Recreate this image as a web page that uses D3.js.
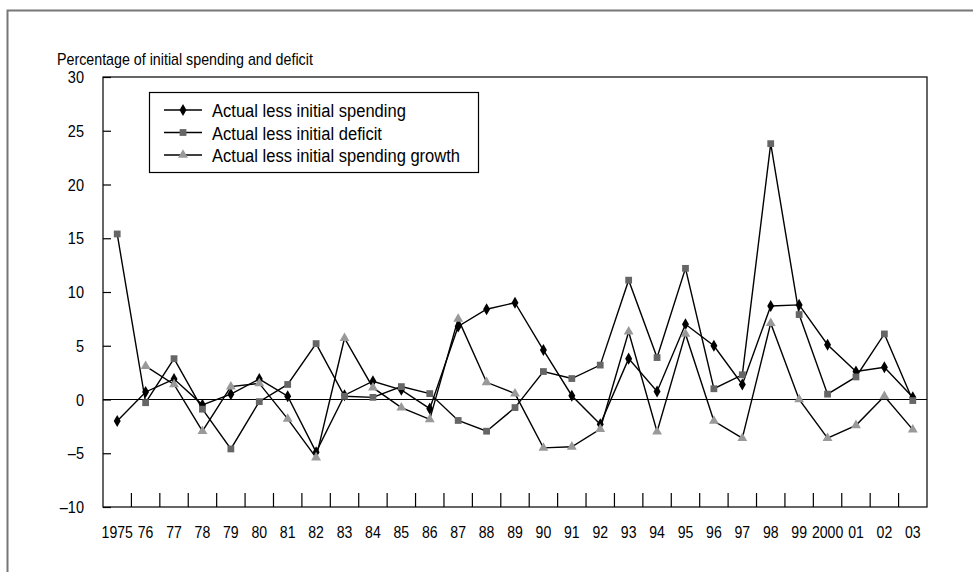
<!DOCTYPE html>
<html>
<head>
<meta charset="utf-8">
<script src="https://cdn.jsdelivr.net/npm/d3@7"></script>
<style>
  body { margin: 0; background: #fff; }
  text { font-family: "Liberation Sans", Arial, sans-serif; fill: #000; }
</style>
</head>
<body>
<div id="chart"></div>
<script>
var width = 973, height = 572

var years = ["1975","76","77","78","79","80","81","82","83","84","85","86","87","88","89",
             "90","91","92","93","94","95","96","97","98","99","2000","01","02","03"]

// Actual less initial spending
var spending = [-2.0, 0.7, 1.9, -0.5, 0.5, 1.9, 0.3, -4.9, 0.4, 1.7, 0.9, -0.85, 6.8, 8.4, 9.0,
                4.6, 0.35, -2.3, 3.8, 0.75, 7.0, 5.0, 1.4, 8.7, 8.8, 5.1, 2.6, 3.0, 0.2]
// Actual less initial deficit
var deficit = [15.4, -0.3, 3.8, -0.9, -4.6, -0.2, 1.4, 5.2, 0.3, 0.2, 1.2, 0.55, -1.95, -2.95, -0.75,
               2.6, 1.95, 3.2, 11.1, 3.9, 12.2, 1.0, 2.3, 23.8, 7.9, 0.5, 2.1, 6.1, -0.1]
// Actual less initial spending growth (no value for 1975)
var growth = [null, 3.1, 1.4, -2.95, 1.2, 1.5, -1.8, -5.4, 5.7, 1.1, -0.75, -1.85, 7.5, 1.6, 0.55,
              -4.5, -4.4, -2.75, 6.3, -3.0, 6.1, -2.0, -3.6, 7.1, 0.0, -3.6, -2.4, 0.3, -2.8]

var yTicks = [-10, -5, 0, 5, 10, 15, 20, 25, 30]

var series = [
  {name: "Actual less initial spending", values: spending, symbol: d3.symbolDiamond, size: 42, color: "#000"},
  {name: "Actual less initial deficit", values: deficit, symbol: d3.symbolSquare, size: 46, color: "#666"},
  {name: "Actual less initial spending growth", values: growth, symbol: d3.symbolTriangle, size: 42, color: "#999"}
]

var margin = {left: 103, right: 46, top: 77, bottom: 65}
var narrow = 0.88 // the original type is a condensed face

var svg = d3.select("#chart").append("svg")
    .attr("width", width)
    .attr("height", height)

// condensed-looking text: squeeze a normal face horizontally
function addText(parent, tx, ty, str, size, anchor) {
  return parent.append("text")
      .attr("transform", "translate(" + tx + "," + ty + ") scale(" + narrow + ",1)")
      .attr("font-size", size)
      .attr("text-anchor", anchor || "start")
      .text(str)
}

// outer frame (top and left edges only)
svg.append("path")
    .attr("d", "M7.5,572 V10.5 H973")
    .attr("fill", "none")
    .attr("stroke", "#777")
    .attr("stroke-width", 2)

var x = d3.scaleBand().domain(years).range([margin.left, width - margin.right])
var y = d3.scaleLinear().domain([-10, 30]).range([height - margin.bottom, margin.top])

// plot box
svg.append("rect")
    .attr("x", margin.left).attr("y", margin.top)
    .attr("width", width - margin.right - margin.left)
    .attr("height", height - margin.bottom - margin.top)
    .attr("fill", "none").attr("stroke", "#000").attr("stroke-width", 1.2)

addText(svg, 57, 65, "Percentage of initial spending and deficit", 16.2)

// y axis: ticks inside, labels to the left
var yAxis = svg.append("g")
    .attr("transform", "translate(" + margin.left + ",0)")
    .call(d3.axisRight(y).tickValues(yTicks).tickSize(8).tickFormat(""))
yAxis.select(".domain").remove()
yAxis.selectAll(".tick line").attr("stroke", "#000").attr("stroke-width", 1.2)
yTicks.forEach(function(d){
  addText(svg, 84, y(d) + 6, d < 0 ? "\u2013" + Math.abs(d) : d, 16.5, "end")
})

// x axis ticks at band boundaries
svg.append("g").selectAll("line")
    .data(years.slice(1))
    .enter().append("line")
    .attr("x1", function(d){ return x(d) }).attr("x2", function(d){ return x(d) })
    .attr("y1", y(-10)).attr("y2", y(-10) - 14)
    .attr("stroke", "#000").attr("stroke-width", 1.2)
var xl = svg.append("g")
years.forEach(function(d){
  addText(xl, x(d) + x.bandwidth() / 2, y(-10) + 31, d, 16, "middle")
})

// zero line
svg.append("line")
    .attr("x1", margin.left).attr("x2", width - margin.right)
    .attr("y1", y(0)).attr("y2", y(0))
    .attr("stroke", "#000").attr("stroke-width", 1.2)

var line = d3.line()
    .defined(function(d){ return d != null })
    .x(function(d, i){ return x(years[i]) + x.bandwidth() / 2 })
    .y(function(d){ return y(d) })

series.forEach(function(s){
  svg.append("path")
      .attr("d", line(s.values))
      .attr("fill", "none")
      .attr("stroke", "#000")
      .attr("stroke-width", 1.4)
})
series.forEach(function(s){
  svg.append("g").selectAll("path")
      .data(s.values.map(function(v, i){ return [i, v] }).filter(function(d){ return d[1] != null }))
      .enter().append("path")
      .attr("transform", function(d){ return "translate(" + (x(years[d[0]]) + x.bandwidth() / 2) + "," + y(d[1]) + ")" })
      .attr("d", d3.symbol().type(s.symbol).size(s.size))
      .attr("fill", s.color)
})

// legend
var legend = svg.append("g")
legend.append("rect")
    .attr("x", 149.5).attr("y", 92.5).attr("width", 329).attr("height", 80)
    .attr("fill", "#fff").attr("stroke", "#000").attr("stroke-width", 1.2)
series.forEach(function(s, i){
  var ly = 110 + i * 22.5
  legend.append("line")
      .attr("x1", 164).attr("x2", 202).attr("y1", ly).attr("y2", ly)
      .attr("stroke", "#000").attr("stroke-width", 1.4)
  legend.append("path")
      .attr("transform", "translate(183," + ly + ")")
      .attr("d", d3.symbol().type(s.symbol).size(s.size))
      .attr("fill", s.color)
  addText(legend, 212, ly + 7, s.name, 18.8)
})
</script>
</body>
</html>
